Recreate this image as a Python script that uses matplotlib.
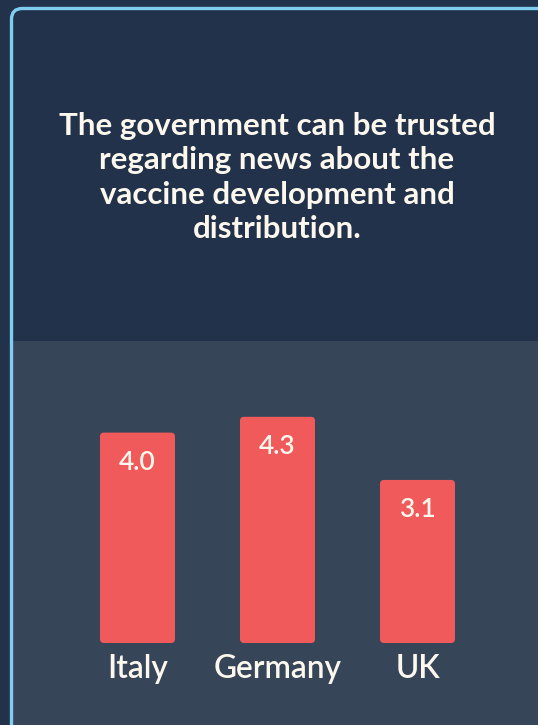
import matplotlib
matplotlib.use("Agg")
import matplotlib.pyplot as plt
from matplotlib.patches import FancyBboxPatch, Rectangle

categories = ["Italy", "Germany", "UK"]
values = [4.0, 4.3, 3.1]
value_labels = ["4.0", "4.3", "3.1"]
title = "The government can be trusted\nregarding news about the\nvaccine development and\ndistribution."

W, H = 538, 725
fig = plt.figure(figsize=(W / 100, H / 100), dpi=100)
fig.patch.set_facecolor("#22324a")

def fx(px):
    return px / W

def fy(py):
    return 1 - py / H

# lower panel
fig.patches.append(Rectangle((fx(11), 0), 1, fy(341), transform=fig.transFigure,
                             facecolor="#374558", edgecolor="none", zorder=-2))
# card border
fig.patches.append(FancyBboxPatch((fx(11.5), fy(740)), fx(560), (740 - 8.5) / H,
                                  boxstyle="round,pad=0,rounding_size=0.02",
                                  mutation_aspect=W / H,
                                  transform=fig.transFigure, facecolor="none",
                                  edgecolor="#7fcdf1", linewidth=2.4, zorder=5))

fig.text(fx(277), fy(177.5), title, ha="center", va="center", color="#fdf8ee",
         fontsize=22.5, fontweight="bold", family=["Lato", "DejaVu Sans"],
         linespacing=1.27)

# bar axes
base_px, top_px = 643, 340
ax = fig.add_axes([0, fy(base_px), 1, (base_px - top_px) / H])
ax.set_facecolor("none")
px_per_unit_y = 52.6
px_per_unit_x = 140
ax.set_xlim(-137.5 / px_per_unit_x, (W - 137.5) / px_per_unit_x)
ax.set_ylim(0, (base_px - top_px) / px_per_unit_y)
ax.axis("off")

xs = list(range(len(categories)))
bars = ax.bar(xs, values, width=75 / px_per_unit_x, color="#f15a5b")
for b in bars:
    b.set_visible(False)
    r = 4 / px_per_unit_x
    p = FancyBboxPatch((b.get_x(), b.get_y()), b.get_width(), b.get_height(),
                       boxstyle=f"round,pad=0,rounding_size={r}",
                       mutation_aspect=px_per_unit_x / px_per_unit_y,
                       facecolor="#f15a5b", edgecolor="none")
    ax.add_patch(p)

for x, v, lab in zip(xs, values, value_labels):
    ax.text(x, v - 30 / px_per_unit_y, lab, ha="center", va="center",
            color="#fdf8ee", fontsize=19, fontweight="semibold",
            family=["Lato", "DejaVu Sans"])

for x, c in zip(xs, categories):
    ax.text(x, -26 / px_per_unit_y, c, ha="center", va="center", clip_on=False,
            color="#fdf8ee", fontsize=22.8, fontweight="semibold",
            family=["Lato", "DejaVu Sans"])

fig.savefig("out.png", dpi=100, facecolor=fig.get_facecolor())
